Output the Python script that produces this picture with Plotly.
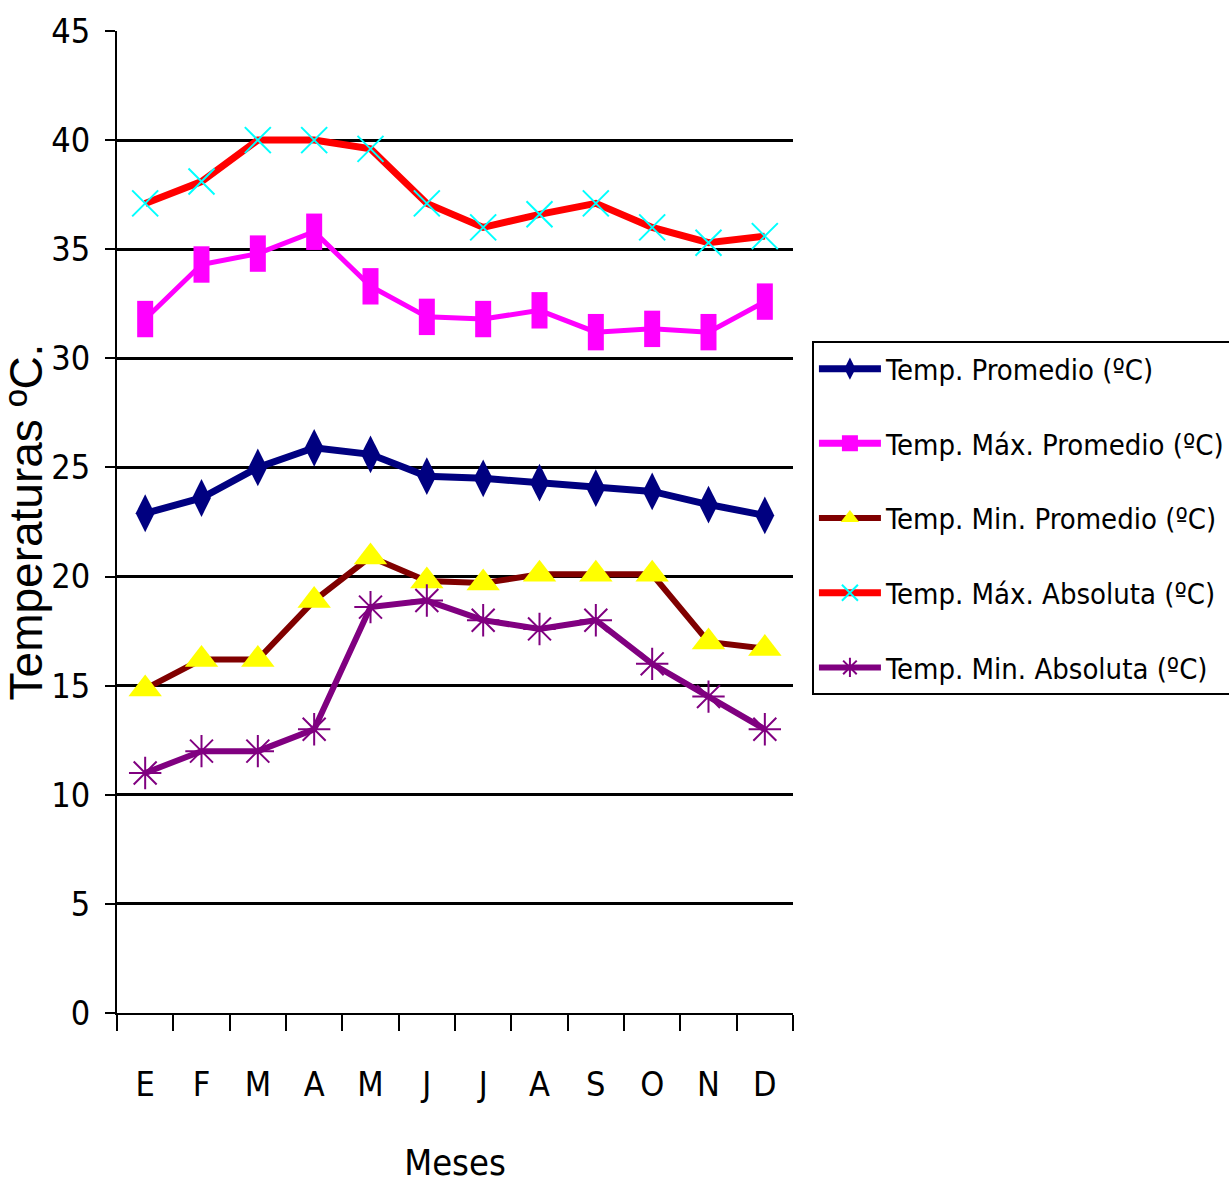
import plotly.graph_objects as go

# Monthly temperature series (ºC)
months = ["E", "F", "M", "A", "M", "J", "J", "A", "S", "O", "N", "D"]
temp_promedio = [22.9, 23.6, 25.0, 25.9, 25.6, 24.6, 24.5, 24.3, 24.05, 23.9, 23.3, 22.8]
temp_max_promedio = [31.8, 34.3, 34.8, 35.8, 33.3, 31.9, 31.8, 32.2, 31.2, 31.35, 31.2, 32.6]
temp_min_promedio = [14.85, 16.2, 16.2, 18.9, 20.9, 19.8, 19.7, 20.1, 20.1, 20.1, 17.0, 16.7]
temp_max_absoluta = [37.1, 38.1, 40.0, 40.0, 39.6, 37.1, 36.0, 36.6, 37.1, 36.0, 35.3, 35.6]
temp_min_absoluta = [11.0, 12.0, 12.0, 13.0, 18.6, 18.9, 18.0, 17.6, 18.0, 16.0, 14.5, 13.0]

y_ticks = list(range(0, 50, 5))

NARROW = "DejaVu Sans Condensed, Liberation Sans Narrow, sans-serif"
REGULAR = "Liberation Sans, Arial, sans-serif"

# numeric x positions so the repeated month letters stay distinct
xs = list(range(len(months)))

fig = go.Figure()

fig.add_trace(go.Scatter(
    x=xs, y=temp_promedio, mode="lines+markers",
    name="Temp. Promedio (ºC)", legendgroup="g1",
    line=dict(color="#000080", width=7),
    marker=dict(symbol="diamond-tall", size=27, color="#000080"),
))

# tall magenta blocks drawn as thick vertical strokes
fig.add_trace(go.Scatter(
    x=xs, y=temp_max_promedio, mode="lines+markers",
    name="Temp. Máx. Promedio (ºC)", legendgroup="g2", showlegend=False,
    line=dict(color="#FF00FF", width=5),
    marker=dict(symbol="line-ns", size=26, color="#FF00FF",
                line=dict(color="#FF00FF", width=16)),
))
fig.add_trace(go.Scatter(
    x=[None], y=[None], mode="lines+markers",
    name="Temp. Máx. Promedio (ºC)", legendgroup="g2",
    line=dict(color="#FF00FF", width=7),
    marker=dict(symbol="square", size=16, color="#FF00FF"),
))

fig.add_trace(go.Scatter(
    x=xs, y=temp_min_promedio, mode="lines+markers",
    name="Temp. Min. Promedio (ºC)", legendgroup="g3",
    line=dict(color="#800000", width=6),
    marker=dict(symbol="triangle-up", size=29, color="#FFFF00"),
))

fig.add_trace(go.Scatter(
    x=xs, y=temp_max_absoluta, mode="lines+markers",
    name="Temp. Máx. Absoluta (ºC)", legendgroup="g4",
    line=dict(color="#FF0000", width=7),
    marker=dict(symbol="x-thin", size=26, color="#00FFFF",
                line=dict(color="#00FFFF", width=2)),
))

fig.add_trace(go.Scatter(
    x=xs, y=temp_min_absoluta, mode="lines+markers",
    name="Temp. Min. Absoluta (ºC)", legendgroup="g5",
    line=dict(color="#800080", width=6),
    marker=dict(symbol="asterisk-open", size=27, color="#800080",
                line=dict(color="#800080", width=2)),
))

fig.update_layout(
    width=1229, height=1183,
    margin=dict(l=117, r=436, t=31, b=170, autoexpand=False),
    paper_bgcolor="white", plot_bgcolor="white",
    font=dict(family=NARROW, color="black"),
    legend=dict(
        x=1.028, y=0.684, xanchor="left", yanchor="top",
        bgcolor="white", bordercolor="black", borderwidth=2,
        font=dict(family=NARROW, size=29, color="black"),
        tracegroupgap=34, traceorder="grouped",
        itemwidth=62,
    ),
    xaxis=dict(
        type="linear",
        range=[-0.5, len(months) - 0.5],
        tickmode="array", tickvals=xs, ticktext=months,
        showgrid=False, zeroline=False,
        showline=True, linecolor="black", linewidth=2,
        ticks="", ticklabelstandoff=40,
        tickfont=dict(family=NARROW, size=34),
        title=dict(text="Meses", font=dict(family=NARROW, size=36), standoff=48),
        minor=dict(tickvals=[i - 0.5 for i in range(len(months) + 1)],
                   ticks="outside", ticklen=16, tickwidth=2, tickcolor="black",
                   showgrid=False),
    ),
    yaxis=dict(
        range=[0, 45], tickmode="array", tickvals=y_ticks,
        showgrid=True, gridcolor="black", gridwidth=2.5,
        zeroline=False,
        showline=True, linecolor="black", linewidth=2,
        ticks="outside", ticklen=10, tickwidth=2, tickcolor="black",
        ticklabelstandoff=8,
        tickfont=dict(family=NARROW, size=34),
        title=dict(text="Temperaturas ºC.", font=dict(family=REGULAR, size=46), standoff=14),
    ),
)

fig.write_html("out.html")
